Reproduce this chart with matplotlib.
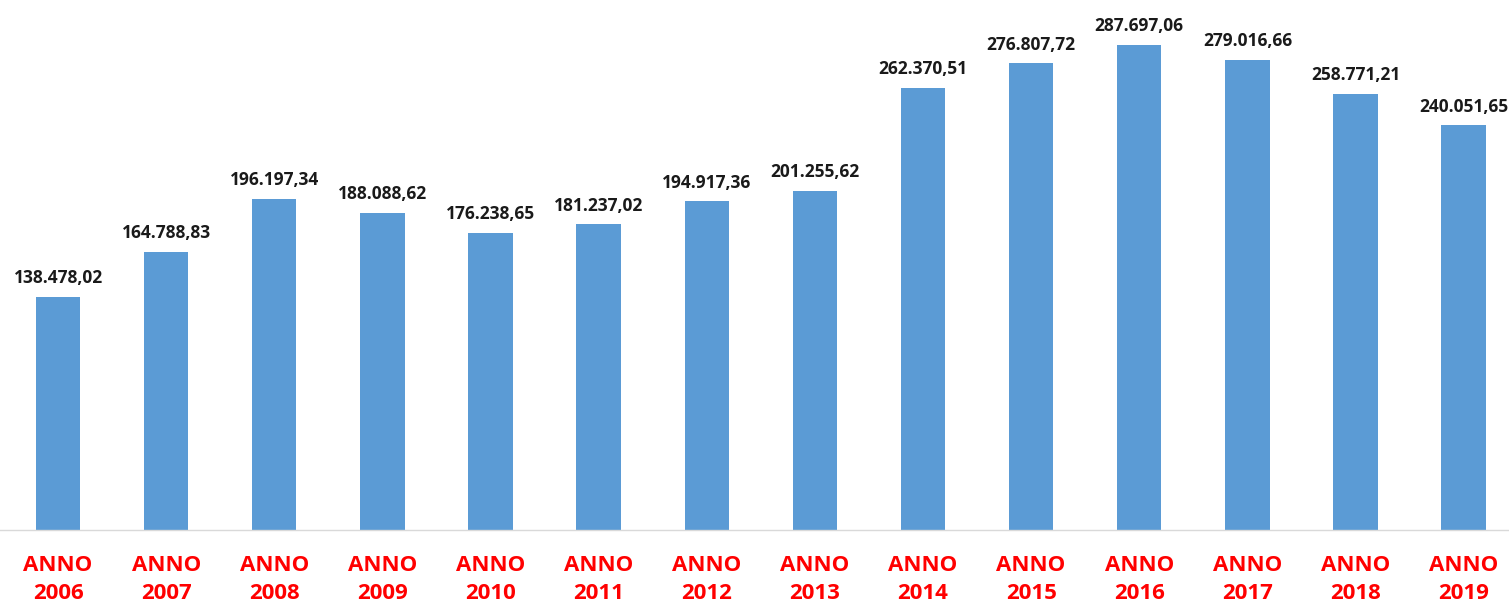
import matplotlib.pyplot as plt
import numpy as np

plt.rcParams.update({'font.family': ['Open Sans', 'DejaVu Sans']})

anni = ['2006', '2007', '2008', '2009', '2010', '2011', '2012', '2013',
        '2014', '2015', '2016', '2017', '2018', '2019']
valori = [138478.02, 164788.83, 196197.34, 188088.62, 176238.65, 181237.02,
          194917.36, 201255.62, 262370.51, 276807.72, 287697.06, 279016.66,
          258771.21, 240051.65]
etichette = ['138.478,02', '164.788,83', '196.197,34', '188.088,62', '176.238,65',
             '181.237,02', '194.917,36', '201.255,62', '262.370,51', '276.807,72',
             '287.697,06', '279.016,66', '258.771,21', '240.051,65']

fig = plt.figure(figsize=(15.09, 6.08), dpi=100)
ax = fig.add_axes([0, 78 / 608, 1, 530 / 608])

x = np.arange(len(anni))
bars = ax.bar(x, valori, width=0.41, color='#5B9BD5', zorder=2)

for xi, v, lab in zip(x, valori, etichette):
    ax.annotate(lab, (xi, v), xytext=(0, 7), textcoords='offset points',
                ha='center', va='bottom', fontsize=12.5, fontweight='bold',
                color='#1a1a1a')

ax.set_xlim(-0.537, 13.42)
ax.set_ylim(0, 314350)
ax.set_xticks(x)
ax.set_xticklabels([f'ANNO\n{a}' for a in anni], color='#FF0000',
                   fontsize=16, fontweight='bold', linespacing=1.45)
ax.tick_params(axis='x', length=0, pad=18)
ax.set_yticks([])
for s in ['top', 'right', 'left']:
    ax.spines[s].set_visible(False)
ax.spines['bottom'].set_color('#D9D9D9')
ax.spines['bottom'].set_linewidth(1)

fig.savefig('out.png', dpi=100)
